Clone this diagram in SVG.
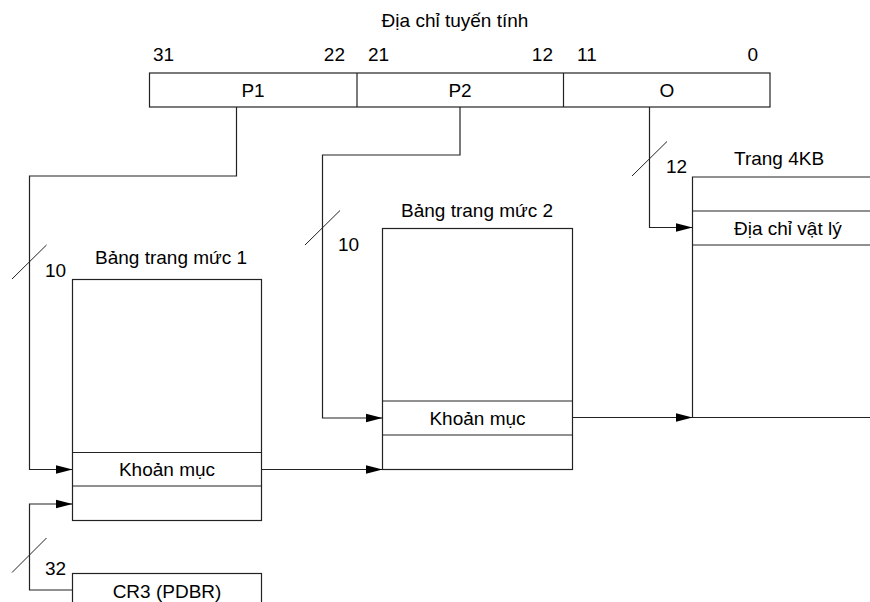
<svg xmlns="http://www.w3.org/2000/svg" width="870" height="602" viewBox="0 0 870 602">
<defs>
<marker id="arr" markerWidth="17" markerHeight="10" refX="17" refY="5" orient="auto" markerUnits="userSpaceOnUse">
<path d="M0,0.5 L17,5 L0,9.5 Z" fill="#000"/>
</marker>
<style>
text{font-family:"Liberation Sans",Arial,sans-serif;font-size:19px;fill:#000}
.c{text-anchor:middle}
.e{text-anchor:end}
.box{fill:#fff;stroke:#222;stroke-width:1.2}
.ln{fill:none;stroke:#222;stroke-width:1.2}
.w{fill:none;stroke:#222;stroke-width:1.2;marker-end:url(#arr)}
.sl{stroke:#222;stroke-width:1}
</style>
</defs>
<rect width="870" height="602" fill="#fff"/>

<g id="linear-address">
<text class="c" x="455" y="27">Địa chỉ tuyến tính</text>
<text x="153" y="61">31</text>
<text class="e" x="345" y="61">22</text>
<text x="368" y="61">21</text>
<text class="e" x="553" y="61">12</text>
<text x="577" y="61">11</text>
<text class="e" x="758" y="61">0</text>
<rect class="box" x="149.5" y="73" width="620.5" height="34"/>
<line class="ln" x1="357" y1="73" x2="357" y2="107"/>
<line class="ln" x1="563.5" y1="73" x2="563.5" y2="107"/>
<text class="c" x="253" y="97">P1</text>
<text class="c" x="460" y="97">P2</text>
<text class="c" x="667" y="97">O</text>
</g>

<g id="page-table-1">
<text x="95" y="264">Bảng trang mức 1</text>
<rect class="box" x="72.5" y="279.5" width="189" height="241"/>
<line class="ln" x1="72.5" y1="452.5" x2="261.5" y2="452.5"/>
<line class="ln" x1="72.5" y1="486" x2="261.5" y2="486"/>
<text class="c" x="167" y="476">Khoản mục</text>
</g>

<g id="cr3">
<rect class="box" x="72.5" y="573.5" width="189" height="40"/>
<text class="c" x="167" y="598">CR3 (PDBR)</text>
</g>

<g id="page-table-2">
<text x="401" y="217">Bảng trang mức 2</text>
<rect class="box" x="382.5" y="228.5" width="190" height="241"/>
<line class="ln" x1="382.5" y1="401" x2="572.5" y2="401"/>
<line class="ln" x1="382.5" y1="435" x2="572.5" y2="435"/>
<text class="c" x="477.5" y="425">Khoản mục</text>
</g>

<g id="page-4kb">
<text x="734" y="165">Trang 4KB</text>
<path class="ln" d="M880,177 H692.5 V417.5 H880"/>
<line class="ln" x1="692.5" y1="211" x2="880" y2="211"/>
<line class="ln" x1="692.5" y1="245" x2="880" y2="245"/>
<text x="734" y="235">Địa chỉ vật lý</text>
</g>

<g id="connectors">
<path class="w" d="M236.5,107 V176 H29.5 V469.5 H72.5"/>
<path class="w" d="M460,107 V155 H322.5 V418 H382.5"/>
<path class="w" d="M649.5,107 V227.5 H692.5"/>
<path class="w" d="M72.5,590 H29.5 V504 H72.5"/>
<path class="w" d="M261.5,469.5 H382.5"/>
<path class="w" d="M572.5,417.5 H692.5"/>
<line class="sl" x1="12" y1="279" x2="46.5" y2="245"/>
<text x="45" y="277">10</text>
<line class="sl" x1="305" y1="245" x2="340" y2="210.5"/>
<text x="338" y="251">10</text>
<line class="sl" x1="632" y1="176" x2="667" y2="141.5"/>
<text x="666" y="173">12</text>
<line class="sl" x1="12" y1="572.5" x2="46.5" y2="538"/>
<text x="45" y="575">32</text>
</g>
</svg>
